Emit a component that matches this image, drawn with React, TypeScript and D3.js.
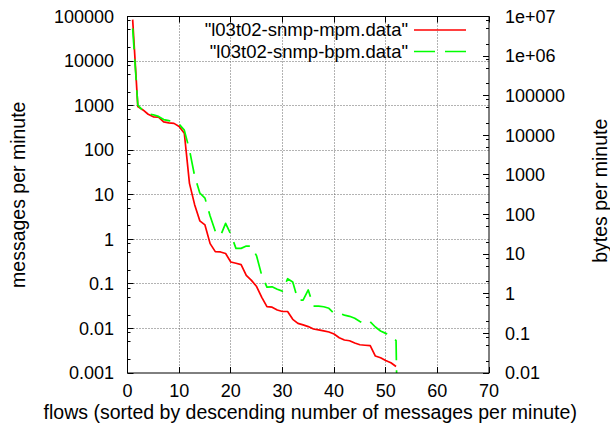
import * as d3 from "d3";
import { useEffect, useRef } from "react";

// flows sorted by rank, messages per minute (left axis)
const mpm = [
  85000, 950, 800, 640, 560, 550, 430, 410, 400, 340,
  240, 18, 6, 2.6, 2.1, 0.8, 0.53, 0.52, 0.48, 0.31,
  0.29, 0.27, 0.155, 0.12, 0.087, 0.05, 0.031, 0.03, 0.026, 0.024,
  0.024, 0.016, 0.013, 0.012, 0.011, 0.0097, 0.0093, 0.0088, 0.0083, 0.0075,
  0.0062, 0.0055, 0.0053, 0.0047, 0.0043, 0.0042, 0.0041, 0.0024, 0.0022, 0.0019,
  0.0017, 0.0014,
];

// bytes per minute (right axis); last flow drops below the axis
const bpm = [
  5000000, 58000, 42000, 35000, 33000, 30000, 25000, 23500, 22000, 19000,
  13500, 4300, 940, 350, 260, 92, 38, 29, 60, 32,
  14, 14, 16, 16, 9, 2.9, 1.48, 1.5, 1.3, 1.17,
  2.4, 1.98, 0.69, 0.69, 1.25, 0.49, 0.49, 0.47, 0.43, 0.32,
  0.32, 0.29, 0.27, 0.24, 0.2, 0.17, 0.195, 0.145, 0.115, 0.1,
  0.09, 0.066, 1e-9,
];

const xTicks = [0, 10, 20, 30, 40, 50, 60, 70];
const yTicks = [0.001, 0.01, 0.1, 1, 10, 100, 1000, 10000, 100000];
const yLabels = ["0.001", "0.01", "0.1", "1", "10", "100", "1000", "10000", "100000"];
const y2Ticks = [0.01, 0.1, 1, 10, 100, 1000, 10000, 100000, 1e6, 1e7];
const y2Labels = ["0.01", "0.1", "1", "10", "100", "1000", "10000", "100000", "1e+06", "1e+07"];
const minorSteps = [2, 5, 8];

const legend = [
  { label: "\"l03t02-snmp-mpm.data\"", color: "#ff0000", dash: null },
  { label: "\"l03t02-snmp-bpm.data\"", color: "#00ff00", dash: "21,10" },
];

const W = 610;
const H = 434;
const FONT = "'Liberation Sans', Arial, sans-serif";
const FS_TICK = 18;
const FS_TEXT = 19.5;
const FS_KEY = 18.5;

export default function App() {
  const ref = useRef<SVGSVGElement | null>(null);

  useEffect(() => {
    const svg = d3.select(ref.current);
    svg.selectAll("*").remove();

    const left = 127.5, right = 489, top = 16.5, bottom = 373;

    const x = d3.scaleLinear().domain([0, 70]).range([left, right]);
    const y = d3.scaleLog().domain([0.001, 100000]).range([bottom, top]);
    const y2 = d3.scaleLog().domain([0.01, 1e7]).range([bottom, top]);
    const crisp = (v: number) => Math.round(v - 0.5) + 0.5;

    svg.append("defs")
      .append("clipPath")
      .attr("id", "plot-clip")
      .append("rect")
      .attr("x", left)
      .attr("y", top)
      .attr("width", right - left)
      .attr("height", bottom - top);

    // grid
    const grid = svg.append("g")
      .attr("stroke", "#666")
      .attr("stroke-width", 1)
      .attr("stroke-dasharray", "1,2");
    grid.selectAll("line.gx")
      .data(xTicks.slice(1, -1))
      .join("line")
      .attr("class", "gx")
      .attr("x1", (d) => crisp(x(d)))
      .attr("x2", (d) => crisp(x(d)))
      .attr("y1", top)
      .attr("y2", bottom);
    grid.selectAll("line.gy")
      .data(yTicks.slice(1, -1))
      .join("line")
      .attr("class", "gy")
      .attr("x1", left)
      .attr("x2", right)
      .attr("y1", (d) => crisp(y(d)))
      .attr("y2", (d) => crisp(y(d)));

    // ticks
    const ticks = svg.append("g").attr("stroke", "#000").attr("stroke-width", 1);
    xTicks.forEach((t) => {
      const px = crisp(x(t));
      ticks.append("line").attr("x1", px).attr("x2", px).attr("y1", bottom).attr("y2", bottom - 6);
      ticks.append("line").attr("x1", px).attr("x2", px).attr("y1", top).attr("y2", top + 6);
    });
    yTicks.forEach((t, i) => {
      const py = crisp(y(t));
      ticks.append("line").attr("x1", left).attr("x2", left + 6).attr("y1", py).attr("y2", py);
      if (i < yTicks.length - 1) {
        minorSteps.forEach((m) => {
          const my = crisp(y(t * m));
          ticks.append("line").attr("x1", left).attr("x2", left + 3).attr("y1", my).attr("y2", my);
        });
      }
    });
    y2Ticks.forEach((t, i) => {
      const py = crisp(y2(t));
      ticks.append("line").attr("x1", right).attr("x2", right - 6).attr("y1", py).attr("y2", py);
      if (i < y2Ticks.length - 1) {
        minorSteps.forEach((m) => {
          const my = crisp(y2(t * m));
          ticks.append("line").attr("x1", right).attr("x2", right - 3).attr("y1", my).attr("y2", my);
        });
      }
    });

    // data lines
    const plot = svg.append("g").attr("clip-path", "url(#plot-clip)").attr("fill", "none");
    const lineL = d3.line<number>()
      .x((_, i) => x(i + 1))
      .y((d) => y(d));
    const lineR = d3.line<number>()
      .x((_, i) => x(i + 1))
      .y((d) => y2(d));
    plot.append("path")
      .attr("d", lineL(mpm))
      .attr("stroke", "#ff0000")
      .attr("stroke-width", 1.7)
      .attr("stroke-linejoin", "round");
    plot.append("path")
      .attr("d", lineR(bpm))
      .attr("stroke", "#00ff00")
      .attr("stroke-width", 1.7)
      .attr("stroke-dasharray", "21,10")
      .attr("stroke-linejoin", "round");

    // border
    svg.append("rect")
      .attr("x", left)
      .attr("y", top)
      .attr("width", right - left)
      .attr("height", bottom - top)
      .attr("fill", "none")
      .attr("stroke", "#000")
      .attr("stroke-width", 1);

    const text = svg.append("g")
      .attr("font-family", FONT)
      .attr("font-size", FS_TEXT)
      .attr("fill", "#000");

    text.selectAll("text.xt")
      .data(xTicks)
      .join("text")
      .attr("class", "xt")
      .attr("x", (d) => x(d))
      .attr("y", 397)
      .attr("font-size", FS_TICK)
      .attr("text-anchor", "middle")
      .text((d) => d);

    text.selectAll("text.yt")
      .data(yTicks)
      .join("text")
      .attr("class", "yt")
      .attr("x", 114)
      .attr("y", (d) => y(d))
      .attr("dy", "0.35em")
      .attr("font-size", FS_TICK)
      .attr("text-anchor", "end")
      .text((_, i) => yLabels[i]);

    text.selectAll("text.y2t")
      .data(y2Ticks)
      .join("text")
      .attr("class", "y2t")
      .attr("x", 505)
      .attr("y", (d) => y2(d))
      .attr("dy", "0.35em")
      .attr("font-size", FS_TICK)
      .attr("text-anchor", "start")
      .text((_, i) => y2Labels[i]);

    text.append("text")
      .attr("x", (left + right) / 2 + 2)
      .attr("y", 419)
      .attr("text-anchor", "middle")
      .text("flows (sorted by descending number of messages per minute)");

    text.append("text")
      .attr("transform", `translate(18,${(top + bottom) / 2}) rotate(-90)`)
      .attr("dy", "0.35em")
      .attr("text-anchor", "middle")
      .text("messages per minute");

    text.append("text")
      .attr("transform", `translate(600,${(top + bottom) / 2 - 4}) rotate(-90)`)
      .attr("dy", "0.35em")
      .attr("text-anchor", "middle")
      .text("bytes per minute");

    // legend
    legend.forEach((l, i) => {
      const ly = 30 + i * 21.5;
      text.append("text")
        .attr("x", 408)
        .attr("y", ly)
        .attr("dy", "0.35em")
        .attr("font-size", FS_KEY)
        .attr("text-anchor", "end")
        .text(l.label);
      svg.append("line")
        .attr("x1", 414)
        .attr("x2", 466)
        .attr("y1", ly)
        .attr("y2", ly)
        .attr("stroke", l.color)
        .attr("stroke-width", 1.7)
        .attr("stroke-dasharray", l.dash);
    });
  }, []);

  return (
    <svg
      ref={ref}
      width={W}
      height={H}
      style={{ position: "absolute", left: 0, top: 0, background: "#fff" }}
    />
  );
}
